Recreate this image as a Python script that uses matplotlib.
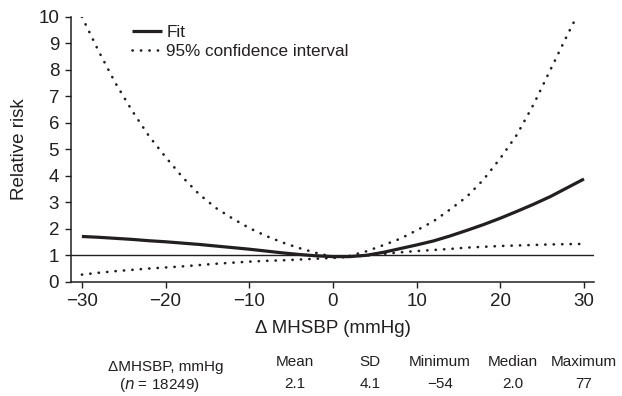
import numpy as np
import matplotlib
matplotlib.use("Agg")
import matplotlib.pyplot as plt

# values
delta_x = [-30, -28, -26, -24, -22, -20, -18, -16, -14, -12, -10, -8, -6, -4, -2,
           0, 2, 4, 6, 8, 10, 12, 14, 16, 18, 20, 22, 24, 26, 28, 30]
fit = [1.70, 1.67, 1.63, 1.59, 1.54, 1.50, 1.45, 1.40, 1.34, 1.28, 1.22, 1.15, 1.08,
       1.02, 0.97, 0.94, 0.94, 0.99, 1.10, 1.24, 1.38, 1.53, 1.72, 1.93, 2.15, 2.39,
       2.65, 2.92, 3.21, 3.54, 3.87]
lower_ci = [0.26, 0.33, 0.39, 0.44, 0.49, 0.53, 0.57, 0.62, 0.67, 0.71, 0.75, 0.78,
            0.80, 0.83, 0.86, 0.89, 0.93, 0.98, 1.04, 1.10, 1.15, 1.19, 1.23, 1.28,
            1.31, 1.34, 1.36, 1.38, 1.40, 1.41, 1.42]
upper_x = [-30, -28, -26, -24, -22, -20, -18, -16, -14, -12, -10, -8, -6, -4, -2,
           0, 2, 4, 6, 8, 10, 12, 14, 16, 18, 20, 22, 24, 26, 28, 28.8]
upper_ci = [10.0, 8.7, 7.5, 6.45, 5.5, 4.7, 3.95, 3.3, 2.78, 2.38, 2.02, 1.72, 1.47,
            1.26, 1.08, 0.93, 0.97, 1.14, 1.37, 1.61, 1.93, 2.27, 2.72, 3.2, 3.85,
            4.65, 5.55, 6.7, 8.0, 9.3, 9.8]

x_ticks = [-30, -20, -10, 0, 10, 20, 30]
y_ticks = list(range(0, 11))

# summary table under the plot
table_header = ["Mean", "SD", "Minimum", "Median", "Maximum"]
table_values = ["2.1", "4.1", "\u221254", "2.0", "77"]

ink = "#231f20"
plt.rcParams["font.family"] = ["Liberation Sans", "DejaVu Sans"]

W, H = 622, 396
fig = plt.figure(figsize=(W / 100, H / 100), dpi=100)

# axes placed in pixel terms
left, right, bottom, top = 71, 594, 281.5, 16.7
ax = fig.add_axes([left / W, 1 - bottom / H, (right - left) / W, (bottom - top) / H])

dot_style = (0, (0.1, 3.1))
ax.plot(delta_x, fit, color=ink, lw=2.3, solid_capstyle="butt", label="Fit")
ax.plot(upper_x, upper_ci, color=ink, lw=1.9, linestyle=dot_style,
        dash_capstyle="round", label="95% confidence interval")
ax.plot(delta_x, lower_ci, color=ink, lw=1.9, linestyle=dot_style,
        dash_capstyle="round")
ax.axhline(1, color=ink, lw=1.0)

ax.set_xlim(-31.3, 31.2)
ax.set_ylim(0, 10)
ax.set_xticks(x_ticks)
ax.set_yticks(y_ticks)
for s in ["top", "right"]:
    ax.spines[s].set_visible(False)
for s in ["left", "bottom"]:
    ax.spines[s].set_linewidth(1.1)
    ax.spines[s].set_color(ink)
ax.tick_params(direction="out", length=4.5, width=1.0, color=ink,
               labelsize=13.5, labelcolor=ink)
ax.tick_params(axis="x", pad=4)
ax.tick_params(axis="y", pad=4)

ax.set_xlabel("\u0394 MHSBP (mmHg)", fontsize=13.5, color=ink)
ax.xaxis.set_label_coords(0.5, -0.145)
ax.set_ylabel("Relative risk", fontsize=13.5, color=ink)
ax.yaxis.set_label_coords(-0.082, 0.5)

leg = ax.legend(loc="upper left", bbox_to_anchor=(132 / W, 1 - 25 / H),
                bbox_transform=fig.transFigure, frameon=False, fontsize=12.3,
                handlelength=1.75, handletextpad=0.25, labelspacing=0.22,
                borderpad=0, borderaxespad=0)
for t in leg.get_texts():
    t.set_color(ink)

def ftext(px, py, s, **kw):
    fig.text(px / W, 1 - py / H, s, ha="center", va="center", fontsize=11,
             color=ink, **kw)

ftext(166, 367, "\u0394MHSBP, mmHg")
ftext(159, 385, "($\\it{n}$ = 18249)")
col_x = [295, 370, 440, 513, 584]
for cx, h, v in zip(col_x, table_header, table_values):
    ftext(cx, 362, h)
    ftext(cx, 384, v)

fig.savefig("out.png", dpi=100)
